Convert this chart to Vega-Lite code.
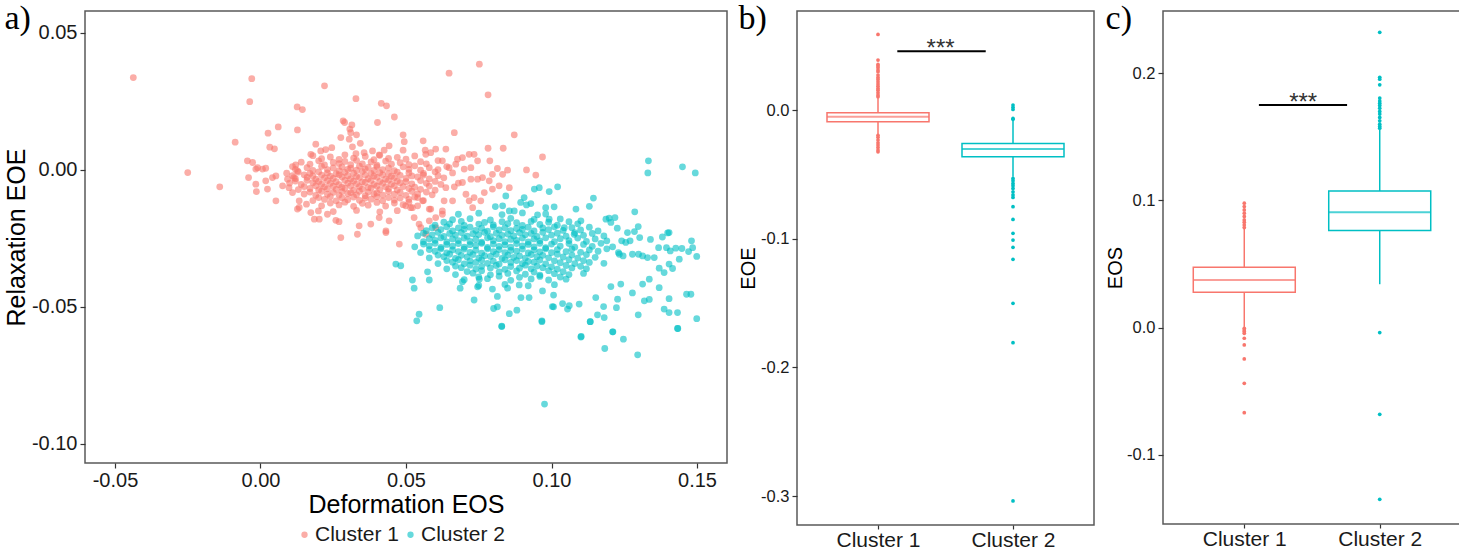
{
  "$schema": "https://vega.github.io/schema/vega-lite/v6.json",
  "padding": {"left": 3, "top": 1, "right": 0, "bottom": 0},
  "spacing": 9,
  "config": {
    "view": {"stroke": "#595959", "strokeWidth": 1.5},
    "font": "Liberation Sans",
    "axis": {"grid": false, "domain": false, "tickColor": "#333333", "tickSize": 5, "tickWidth": 1.2, "labelColor": "#1a1a1a", "titleColor": "#000000", "titleFontWeight": "normal", "labelFont": "Liberation Sans", "titleFont": "Liberation Sans", "labelPadding": 3},
    "title": {"font": "Liberation Serif", "fontSize": 34, "fontWeight": "normal", "anchor": "start", "frame": "bounds", "color": "#000000"}
  },
  "resolve": {"scale": {"color": "independent", "stroke": "independent"}, "legend": {"color": "independent"}},
  "datasets": {
    "scatter": [
      {"eos": -0.0437, "eoe": 0.0337, "cluster": "Cluster 1"},
      {"eos": -0.0030, "eoe": 0.0333, "cluster": "Cluster 1"},
      {"eos": -0.0037, "eoe": 0.0249, "cluster": "Cluster 1"},
      {"eos": 0.0220, "eoe": 0.0307, "cluster": "Cluster 1"},
      {"eos": 0.0328, "eoe": 0.0260, "cluster": "Cluster 1"},
      {"eos": 0.0415, "eoe": 0.0243, "cluster": "Cluster 1"},
      {"eos": 0.0433, "eoe": 0.0234, "cluster": "Cluster 1"},
      {"eos": 0.0460, "eoe": 0.0193, "cluster": "Cluster 1"},
      {"eos": 0.0126, "eoe": 0.0230, "cluster": "Cluster 1"},
      {"eos": 0.0144, "eoe": 0.0220, "cluster": "Cluster 1"},
      {"eos": 0.0061, "eoe": 0.0157, "cluster": "Cluster 1"},
      {"eos": 0.0026, "eoe": 0.0134, "cluster": "Cluster 1"},
      {"eos": 0.0127, "eoe": 0.0146, "cluster": "Cluster 1"},
      {"eos": -0.0087, "eoe": 0.0101, "cluster": "Cluster 1"},
      {"eos": 0.0032, "eoe": 0.0083, "cluster": "Cluster 1"},
      {"eos": 0.0048, "eoe": 0.0077, "cluster": "Cluster 1"},
      {"eos": -0.0250, "eoe": -0.0010, "cluster": "Cluster 1"},
      {"eos": -0.0140, "eoe": -0.0062, "cluster": "Cluster 1"},
      {"eos": 0.0284, "eoe": 0.0179, "cluster": "Cluster 1"},
      {"eos": 0.0289, "eoe": 0.0173, "cluster": "Cluster 1"},
      {"eos": 0.0314, "eoe": 0.0164, "cluster": "Cluster 1"},
      {"eos": 0.0307, "eoe": 0.0149, "cluster": "Cluster 1"},
      {"eos": 0.0330, "eoe": 0.0128, "cluster": "Cluster 1"},
      {"eos": 0.0310, "eoe": 0.0136, "cluster": "Cluster 1"},
      {"eos": 0.0402, "eoe": 0.0173, "cluster": "Cluster 1"},
      {"eos": 0.0276, "eoe": 0.0118, "cluster": "Cluster 1"},
      {"eos": 0.0305, "eoe": 0.0112, "cluster": "Cluster 1"},
      {"eos": 0.0343, "eoe": 0.0097, "cluster": "Cluster 1"},
      {"eos": 0.0190, "eoe": 0.0094, "cluster": "Cluster 1"},
      {"eos": 0.0207, "eoe": 0.0069, "cluster": "Cluster 1"},
      {"eos": 0.0224, "eoe": 0.0074, "cluster": "Cluster 1"},
      {"eos": 0.0245, "eoe": 0.0081, "cluster": "Cluster 1"},
      {"eos": 0.0173, "eoe": 0.0057, "cluster": "Cluster 1"},
      {"eos": 0.0316, "eoe": 0.0084, "cluster": "Cluster 1"},
      {"eos": 0.0328, "eoe": 0.0059, "cluster": "Cluster 1"},
      {"eos": 0.0356, "eoe": 0.0063, "cluster": "Cluster 1"},
      {"eos": 0.0385, "eoe": 0.0069, "cluster": "Cluster 1"},
      {"eos": 0.0408, "eoe": 0.0055, "cluster": "Cluster 1"},
      {"eos": 0.0425, "eoe": 0.0072, "cluster": "Cluster 1"},
      {"eos": 0.0442, "eoe": 0.0088, "cluster": "Cluster 1"},
      {"eos": 0.0490, "eoe": 0.0128, "cluster": "Cluster 1"},
      {"eos": 0.0494, "eoe": 0.0103, "cluster": "Cluster 1"},
      {"eos": 0.0490, "eoe": 0.0072, "cluster": "Cluster 1"},
      {"eos": 0.0559, "eoe": 0.0106, "cluster": "Cluster 1"},
      {"eos": 0.0566, "eoe": 0.0072, "cluster": "Cluster 1"},
      {"eos": -0.0045, "eoe": 0.0033, "cluster": "Cluster 1"},
      {"eos": -0.0027, "eoe": 0.0027, "cluster": "Cluster 1"},
      {"eos": -0.0010, "eoe": 0.0008, "cluster": "Cluster 1"},
      {"eos": 0.0007, "eoe": 0.0003, "cluster": "Cluster 1"},
      {"eos": 0.0018, "eoe": 0.0006, "cluster": "Cluster 1"},
      {"eos": -0.0016, "eoe": 0.0003, "cluster": "Cluster 1"},
      {"eos": -0.0041, "eoe": -0.0028, "cluster": "Cluster 1"},
      {"eos": -0.0016, "eoe": -0.0052, "cluster": "Cluster 1"},
      {"eos": -0.0014, "eoe": -0.0079, "cluster": "Cluster 1"},
      {"eos": 0.0018, "eoe": -0.0040, "cluster": "Cluster 1"},
      {"eos": 0.0024, "eoe": -0.0070, "cluster": "Cluster 1"},
      {"eos": 0.0041, "eoe": -0.0028, "cluster": "Cluster 1"},
      {"eos": 0.0053, "eoe": -0.0022, "cluster": "Cluster 1"},
      {"eos": 0.0053, "eoe": -0.0113, "cluster": "Cluster 1"},
      {"eos": 0.0076, "eoe": -0.0058, "cluster": "Cluster 1"},
      {"eos": 0.0093, "eoe": -0.0034, "cluster": "Cluster 1"},
      {"eos": 0.0098, "eoe": -0.0065, "cluster": "Cluster 1"},
      {"eos": 0.0121, "eoe": 0.0018, "cluster": "Cluster 1"},
      {"eos": 0.0127, "eoe": -0.0004, "cluster": "Cluster 1"},
      {"eos": 0.0115, "eoe": -0.0028, "cluster": "Cluster 1"},
      {"eos": 0.0110, "eoe": -0.0083, "cluster": "Cluster 1"},
      {"eos": 0.0133, "eoe": -0.0113, "cluster": "Cluster 1"},
      {"eos": 0.0133, "eoe": -0.0137, "cluster": "Cluster 1"},
      {"eos": 0.0202, "eoe": -0.0180, "cluster": "Cluster 1"},
      {"eos": 0.0230, "eoe": -0.0162, "cluster": "Cluster 1"},
      {"eos": 0.0259, "eoe": -0.0184, "cluster": "Cluster 1"},
      {"eos": 0.0270, "eoe": -0.0189, "cluster": "Cluster 1"},
      {"eos": 0.0276, "eoe": -0.0247, "cluster": "Cluster 1"},
      {"eos": 0.0339, "eoe": -0.0204, "cluster": "Cluster 1"},
      {"eos": 0.0333, "eoe": -0.0235, "cluster": "Cluster 1"},
      {"eos": 0.0379, "eoe": -0.0198, "cluster": "Cluster 1"},
      {"eos": 0.0408, "eoe": -0.0174, "cluster": "Cluster 1"},
      {"eos": 0.0431, "eoe": -0.0223, "cluster": "Cluster 1"},
      {"eos": 0.0442, "eoe": -0.0186, "cluster": "Cluster 1"},
      {"eos": 0.0499, "eoe": -0.0131, "cluster": "Cluster 1"},
      {"eos": 0.0522, "eoe": -0.0138, "cluster": "Cluster 1"},
      {"eos": 0.0528, "eoe": -0.0174, "cluster": "Cluster 1"},
      {"eos": 0.0545, "eoe": -0.0198, "cluster": "Cluster 1"},
      {"eos": 0.0580, "eoe": -0.0143, "cluster": "Cluster 1"},
      {"eos": 0.0173, "eoe": -0.0156, "cluster": "Cluster 1"},
      {"eos": 0.0185, "eoe": -0.0180, "cluster": "Cluster 1"},
      {"eos": 0.0199, "eoe": -0.0150, "cluster": "Cluster 1"},
      {"eos": 0.0127, "eoe": -0.0143, "cluster": "Cluster 1"},
      {"eos": 0.0158, "eoe": -0.0125, "cluster": "Cluster 1"},
      {"eos": 0.0752, "eoe": 0.0386, "cluster": "Cluster 1"},
      {"eos": 0.0648, "eoe": 0.0353, "cluster": "Cluster 1"},
      {"eos": 0.0782, "eoe": 0.0274, "cluster": "Cluster 1"},
      {"eos": 0.0666, "eoe": 0.0136, "cluster": "Cluster 1"},
      {"eos": 0.0872, "eoe": 0.0128, "cluster": "Cluster 1"},
      {"eos": 0.0782, "eoe": 0.0079, "cluster": "Cluster 1"},
      {"eos": 0.0834, "eoe": 0.0079, "cluster": "Cluster 1"},
      {"eos": 0.0969, "eoe": 0.0047, "cluster": "Cluster 1"},
      {"eos": 0.0914, "eoe": 0.0000, "cluster": "Cluster 1"},
      {"eos": 0.0946, "eoe": -0.0019, "cluster": "Cluster 1"},
      {"eos": 0.0855, "eoe": -0.0065, "cluster": "Cluster 1"},
      {"eos": 0.0788, "eoe": 0.0033, "cluster": "Cluster 1"},
      {"eos": 0.0814, "eoe": 0.0005, "cluster": "Cluster 1"},
      {"eos": 0.0797, "eoe": -0.0016, "cluster": "Cluster 1"},
      {"eos": 0.0832, "eoe": -0.0016, "cluster": "Cluster 1"},
      {"eos": 0.0849, "eoe": -0.0001, "cluster": "Cluster 1"},
      {"eos": 0.0797, "eoe": -0.0070, "cluster": "Cluster 1"},
      {"eos": 0.0820, "eoe": -0.0058, "cluster": "Cluster 1"},
      {"eos": 0.0769, "eoe": -0.0083, "cluster": "Cluster 1"},
      {"eos": 0.0757, "eoe": -0.0113, "cluster": "Cluster 1"},
      {"eos": 0.0734, "eoe": -0.0101, "cluster": "Cluster 1"},
      {"eos": 0.0786, "eoe": -0.0040, "cluster": "Cluster 1"},
      {"eos": 0.0763, "eoe": -0.0028, "cluster": "Cluster 1"},
      {"eos": 0.0746, "eoe": -0.0034, "cluster": "Cluster 1"},
      {"eos": 0.0723, "eoe": -0.0034, "cluster": "Cluster 1"},
      {"eos": 0.0694, "eoe": -0.0046, "cluster": "Cluster 1"},
      {"eos": 0.0717, "eoe": 0.0057, "cluster": "Cluster 1"},
      {"eos": 0.0734, "eoe": 0.0057, "cluster": "Cluster 1"},
      {"eos": 0.0746, "eoe": 0.0033, "cluster": "Cluster 1"},
      {"eos": 0.0694, "eoe": 0.0045, "cluster": "Cluster 1"},
      {"eos": 0.0677, "eoe": 0.0039, "cluster": "Cluster 1"},
      {"eos": 0.0700, "eoe": 0.0003, "cluster": "Cluster 1"},
      {"eos": 0.0723, "eoe": 0.0008, "cluster": "Cluster 1"},
      {"eos": 0.0671, "eoe": 0.0021, "cluster": "Cluster 1"},
      {"eos": 0.0648, "eoe": 0.0008, "cluster": "Cluster 1"},
      {"eos": 0.0625, "eoe": 0.0033, "cluster": "Cluster 1"},
      {"eos": 0.0637, "eoe": 0.0076, "cluster": "Cluster 1"},
      {"eos": 0.0602, "eoe": 0.0076, "cluster": "Cluster 1"},
      {"eos": 0.0585, "eoe": 0.0063, "cluster": "Cluster 1"},
      {"eos": 0.0568, "eoe": 0.0057, "cluster": "Cluster 1"},
      {"eos": 0.0637, "eoe": -0.0065, "cluster": "Cluster 1"},
      {"eos": 0.0666, "eoe": -0.0062, "cluster": "Cluster 1"},
      {"eos": 0.0706, "eoe": -0.0089, "cluster": "Cluster 1"},
      {"eos": 0.0717, "eoe": -0.0113, "cluster": "Cluster 1"},
      {"eos": 0.0729, "eoe": -0.0138, "cluster": "Cluster 1"},
      {"eos": 0.0660, "eoe": -0.0113, "cluster": "Cluster 1"},
      {"eos": 0.0631, "eoe": -0.0113, "cluster": "Cluster 1"},
      {"eos": 0.0625, "eoe": -0.0150, "cluster": "Cluster 1"},
      {"eos": 0.0602, "eoe": -0.0174, "cluster": "Cluster 1"},
      {"eos": 0.0585, "eoe": -0.0143, "cluster": "Cluster 1"},
      {"eos": 0.0557, "eoe": -0.0113, "cluster": "Cluster 1"},
      {"eos": 0.0540, "eoe": -0.0101, "cluster": "Cluster 1"},
      {"eos": 0.0516, "eoe": -0.0138, "cluster": "Cluster 1"},
      {"eos": 0.0551, "eoe": -0.0211, "cluster": "Cluster 1"},
      {"eos": 0.0580, "eoe": -0.0186, "cluster": "Cluster 1"},
      {"eos": 0.0602, "eoe": -0.0211, "cluster": "Cluster 1"},
      {"eos": 0.0477, "eoe": -0.0271, "cluster": "Cluster 1"},
      {"eos": 0.0431, "eoe": -0.0229, "cluster": "Cluster 1"},
      {"eos": 0.0568, "eoe": -0.0235, "cluster": "Cluster 1"},
      {"eos": 0.0625, "eoe": -0.0162, "cluster": "Cluster 1"},
      {"eos": 0.018, "eoe": 0.0052, "cluster": "Cluster 1"},
      {"eos": 0.024, "eoe": 0.0047, "cluster": "Cluster 1"},
      {"eos": 0.029, "eoe": 0.0055, "cluster": "Cluster 1"},
      {"eos": 0.036, "eoe": 0.0049, "cluster": "Cluster 1"},
      {"eos": 0.041, "eoe": 0.0053, "cluster": "Cluster 1"},
      {"eos": 0.047, "eoe": 0.0046, "cluster": "Cluster 1"},
      {"eos": 0.053, "eoe": 0.0051, "cluster": "Cluster 1"},
      {"eos": 0.014, "eoe": 0.0028, "cluster": "Cluster 1"},
      {"eos": 0.020, "eoe": 0.0033, "cluster": "Cluster 1"},
      {"eos": 0.025, "eoe": 0.0027, "cluster": "Cluster 1"},
      {"eos": 0.029, "eoe": 0.0031, "cluster": "Cluster 1"},
      {"eos": 0.033, "eoe": 0.0035, "cluster": "Cluster 1"},
      {"eos": 0.038, "eoe": 0.0029, "cluster": "Cluster 1"},
      {"eos": 0.043, "eoe": 0.0032, "cluster": "Cluster 1"},
      {"eos": 0.048, "eoe": 0.0026, "cluster": "Cluster 1"},
      {"eos": 0.055, "eoe": 0.0030, "cluster": "Cluster 1"},
      {"eos": 0.061, "eoe": 0.0034, "cluster": "Cluster 1"},
      {"eos": 0.011, "eoe": 0.0012, "cluster": "Cluster 1"},
      {"eos": 0.016, "eoe": 0.0008, "cluster": "Cluster 1"},
      {"eos": 0.021, "eoe": 0.0013, "cluster": "Cluster 1"},
      {"eos": 0.025, "eoe": 0.0007, "cluster": "Cluster 1"},
      {"eos": 0.028, "eoe": 0.0011, "cluster": "Cluster 1"},
      {"eos": 0.031, "eoe": 0.0006, "cluster": "Cluster 1"},
      {"eos": 0.034, "eoe": 0.0014, "cluster": "Cluster 1"},
      {"eos": 0.037, "eoe": 0.0009, "cluster": "Cluster 1"},
      {"eos": 0.040, "eoe": 0.0012, "cluster": "Cluster 1"},
      {"eos": 0.044, "eoe": 0.0007, "cluster": "Cluster 1"},
      {"eos": 0.049, "eoe": 0.0011, "cluster": "Cluster 1"},
      {"eos": 0.053, "eoe": 0.0015, "cluster": "Cluster 1"},
      {"eos": 0.058, "eoe": 0.0008, "cluster": "Cluster 1"},
      {"eos": 0.064, "eoe": 0.0012, "cluster": "Cluster 1"},
      {"eos": 0.009, "eoe": -0.0012, "cluster": "Cluster 1"},
      {"eos": 0.013, "eoe": -0.0008, "cluster": "Cluster 1"},
      {"eos": 0.017, "eoe": -0.0013, "cluster": "Cluster 1"},
      {"eos": 0.020, "eoe": -0.0007, "cluster": "Cluster 1"},
      {"eos": 0.023, "eoe": -0.0011, "cluster": "Cluster 1"},
      {"eos": 0.026, "eoe": -0.0014, "cluster": "Cluster 1"},
      {"eos": 0.029, "eoe": -0.0009, "cluster": "Cluster 1"},
      {"eos": 0.032, "eoe": -0.0012, "cluster": "Cluster 1"},
      {"eos": 0.035, "eoe": -0.0006, "cluster": "Cluster 1"},
      {"eos": 0.038, "eoe": -0.0013, "cluster": "Cluster 1"},
      {"eos": 0.041, "eoe": -0.0010, "cluster": "Cluster 1"},
      {"eos": 0.044, "eoe": -0.0014, "cluster": "Cluster 1"},
      {"eos": 0.047, "eoe": -0.0008, "cluster": "Cluster 1"},
      {"eos": 0.051, "eoe": -0.0011, "cluster": "Cluster 1"},
      {"eos": 0.056, "eoe": -0.0013, "cluster": "Cluster 1"},
      {"eos": 0.060, "eoe": -0.0007, "cluster": "Cluster 1"},
      {"eos": 0.066, "eoe": -0.0011, "cluster": "Cluster 1"},
      {"eos": 0.012, "eoe": -0.0032, "cluster": "Cluster 1"},
      {"eos": 0.016, "eoe": -0.0027, "cluster": "Cluster 1"},
      {"eos": 0.019, "eoe": -0.0034, "cluster": "Cluster 1"},
      {"eos": 0.022, "eoe": -0.0029, "cluster": "Cluster 1"},
      {"eos": 0.025, "eoe": -0.0031, "cluster": "Cluster 1"},
      {"eos": 0.028, "eoe": -0.0026, "cluster": "Cluster 1"},
      {"eos": 0.031, "eoe": -0.0033, "cluster": "Cluster 1"},
      {"eos": 0.034, "eoe": -0.0028, "cluster": "Cluster 1"},
      {"eos": 0.037, "eoe": -0.0032, "cluster": "Cluster 1"},
      {"eos": 0.040, "eoe": -0.0027, "cluster": "Cluster 1"},
      {"eos": 0.043, "eoe": -0.0034, "cluster": "Cluster 1"},
      {"eos": 0.046, "eoe": -0.0029, "cluster": "Cluster 1"},
      {"eos": 0.050, "eoe": -0.0031, "cluster": "Cluster 1"},
      {"eos": 0.054, "eoe": -0.0026, "cluster": "Cluster 1"},
      {"eos": 0.058, "eoe": -0.0033, "cluster": "Cluster 1"},
      {"eos": 0.063, "eoe": -0.0029, "cluster": "Cluster 1"},
      {"eos": 0.010, "eoe": -0.0048, "cluster": "Cluster 1"},
      {"eos": 0.014, "eoe": -0.0053, "cluster": "Cluster 1"},
      {"eos": 0.018, "eoe": -0.0047, "cluster": "Cluster 1"},
      {"eos": 0.021, "eoe": -0.0052, "cluster": "Cluster 1"},
      {"eos": 0.024, "eoe": -0.0049, "cluster": "Cluster 1"},
      {"eos": 0.027, "eoe": -0.0054, "cluster": "Cluster 1"},
      {"eos": 0.030, "eoe": -0.0048, "cluster": "Cluster 1"},
      {"eos": 0.033, "eoe": -0.0051, "cluster": "Cluster 1"},
      {"eos": 0.036, "eoe": -0.0046, "cluster": "Cluster 1"},
      {"eos": 0.039, "eoe": -0.0053, "cluster": "Cluster 1"},
      {"eos": 0.042, "eoe": -0.0049, "cluster": "Cluster 1"},
      {"eos": 0.045, "eoe": -0.0052, "cluster": "Cluster 1"},
      {"eos": 0.048, "eoe": -0.0047, "cluster": "Cluster 1"},
      {"eos": 0.052, "eoe": -0.0051, "cluster": "Cluster 1"},
      {"eos": 0.057, "eoe": -0.0049, "cluster": "Cluster 1"},
      {"eos": 0.062, "eoe": -0.0053, "cluster": "Cluster 1"},
      {"eos": 0.068, "eoe": -0.0048, "cluster": "Cluster 1"},
      {"eos": 0.013, "eoe": -0.0072, "cluster": "Cluster 1"},
      {"eos": 0.017, "eoe": -0.0068, "cluster": "Cluster 1"},
      {"eos": 0.020, "eoe": -0.0073, "cluster": "Cluster 1"},
      {"eos": 0.023, "eoe": -0.0069, "cluster": "Cluster 1"},
      {"eos": 0.026, "eoe": -0.0071, "cluster": "Cluster 1"},
      {"eos": 0.029, "eoe": -0.0067, "cluster": "Cluster 1"},
      {"eos": 0.032, "eoe": -0.0074, "cluster": "Cluster 1"},
      {"eos": 0.035, "eoe": -0.0070, "cluster": "Cluster 1"},
      {"eos": 0.038, "eoe": -0.0066, "cluster": "Cluster 1"},
      {"eos": 0.041, "eoe": -0.0072, "cluster": "Cluster 1"},
      {"eos": 0.044, "eoe": -0.0069, "cluster": "Cluster 1"},
      {"eos": 0.047, "eoe": -0.0073, "cluster": "Cluster 1"},
      {"eos": 0.051, "eoe": -0.0068, "cluster": "Cluster 1"},
      {"eos": 0.055, "eoe": -0.0071, "cluster": "Cluster 1"},
      {"eos": 0.060, "eoe": -0.0074, "cluster": "Cluster 1"},
      {"eos": 0.015, "eoe": -0.0088, "cluster": "Cluster 1"},
      {"eos": 0.019, "eoe": -0.0093, "cluster": "Cluster 1"},
      {"eos": 0.023, "eoe": -0.0089, "cluster": "Cluster 1"},
      {"eos": 0.027, "eoe": -0.0092, "cluster": "Cluster 1"},
      {"eos": 0.030, "eoe": -0.0087, "cluster": "Cluster 1"},
      {"eos": 0.033, "eoe": -0.0091, "cluster": "Cluster 1"},
      {"eos": 0.036, "eoe": -0.0094, "cluster": "Cluster 1"},
      {"eos": 0.039, "eoe": -0.0088, "cluster": "Cluster 1"},
      {"eos": 0.042, "eoe": -0.0092, "cluster": "Cluster 1"},
      {"eos": 0.046, "eoe": -0.0089, "cluster": "Cluster 1"},
      {"eos": 0.050, "eoe": -0.0093, "cluster": "Cluster 1"},
      {"eos": 0.054, "eoe": -0.0088, "cluster": "Cluster 1"},
      {"eos": 0.059, "eoe": -0.0091, "cluster": "Cluster 1"},
      {"eos": 0.018, "eoe": -0.0112, "cluster": "Cluster 1"},
      {"eos": 0.022, "eoe": -0.0108, "cluster": "Cluster 1"},
      {"eos": 0.026, "eoe": -0.0113, "cluster": "Cluster 1"},
      {"eos": 0.030, "eoe": -0.0109, "cluster": "Cluster 1"},
      {"eos": 0.034, "eoe": -0.0111, "cluster": "Cluster 1"},
      {"eos": 0.038, "eoe": -0.0107, "cluster": "Cluster 1"},
      {"eos": 0.042, "eoe": -0.0113, "cluster": "Cluster 1"},
      {"eos": 0.046, "eoe": -0.0110, "cluster": "Cluster 1"},
      {"eos": 0.051, "eoe": -0.0108, "cluster": "Cluster 1"},
      {"eos": 0.056, "eoe": -0.0112, "cluster": "Cluster 1"},
      {"eos": 0.021, "eoe": -0.0131, "cluster": "Cluster 1"},
      {"eos": 0.027, "eoe": -0.0128, "cluster": "Cluster 1"},
      {"eos": 0.032, "eoe": -0.0133, "cluster": "Cluster 1"},
      {"eos": 0.037, "eoe": -0.0129, "cluster": "Cluster 1"},
      {"eos": 0.043, "eoe": -0.0132, "cluster": "Cluster 1"},
      {"eos": 0.049, "eoe": -0.0127, "cluster": "Cluster 1"},
      {"eos": 0.054, "eoe": -0.0131, "cluster": "Cluster 1"},
      {"eos": 0.025, "eoe": -0.0152, "cluster": "Cluster 1"},
      {"eos": 0.033, "eoe": -0.0148, "cluster": "Cluster 1"},
      {"eos": 0.041, "eoe": -0.0153, "cluster": "Cluster 1"},
      {"eos": 0.047, "eoe": -0.0149, "cluster": "Cluster 1"},
      {"eos": 0.021, "eoe": 0.0041, "cluster": "Cluster 1"},
      {"eos": 0.027, "eoe": 0.0038, "cluster": "Cluster 1"},
      {"eos": 0.032, "eoe": 0.0043, "cluster": "Cluster 1"},
      {"eos": 0.039, "eoe": 0.0037, "cluster": "Cluster 1"},
      {"eos": 0.044, "eoe": 0.0042, "cluster": "Cluster 1"},
      {"eos": 0.050, "eoe": 0.0039, "cluster": "Cluster 1"},
      {"eos": 0.017, "eoe": 0.0021, "cluster": "Cluster 1"},
      {"eos": 0.022, "eoe": 0.0018, "cluster": "Cluster 1"},
      {"eos": 0.027, "eoe": 0.0023, "cluster": "Cluster 1"},
      {"eos": 0.031, "eoe": 0.0019, "cluster": "Cluster 1"},
      {"eos": 0.035, "eoe": 0.0022, "cluster": "Cluster 1"},
      {"eos": 0.040, "eoe": 0.0017, "cluster": "Cluster 1"},
      {"eos": 0.045, "eoe": 0.0021, "cluster": "Cluster 1"},
      {"eos": 0.051, "eoe": 0.0019, "cluster": "Cluster 1"},
      {"eos": 0.057, "eoe": 0.0022, "cluster": "Cluster 1"},
      {"eos": 0.012, "eoe": 0.0002, "cluster": "Cluster 1"},
      {"eos": 0.018, "eoe": -0.0002, "cluster": "Cluster 1"},
      {"eos": 0.023, "eoe": 0.0001, "cluster": "Cluster 1"},
      {"eos": 0.027, "eoe": -0.0003, "cluster": "Cluster 1"},
      {"eos": 0.030, "eoe": 0.0002, "cluster": "Cluster 1"},
      {"eos": 0.033, "eoe": -0.0001, "cluster": "Cluster 1"},
      {"eos": 0.036, "eoe": 0.0003, "cluster": "Cluster 1"},
      {"eos": 0.039, "eoe": -0.0002, "cluster": "Cluster 1"},
      {"eos": 0.042, "eoe": 0.0001, "cluster": "Cluster 1"},
      {"eos": 0.046, "eoe": -0.0003, "cluster": "Cluster 1"},
      {"eos": 0.051, "eoe": 0.0002, "cluster": "Cluster 1"},
      {"eos": 0.055, "eoe": -0.0001, "cluster": "Cluster 1"},
      {"eos": 0.061, "eoe": 0.0001, "cluster": "Cluster 1"},
      {"eos": 0.011, "eoe": -0.0021, "cluster": "Cluster 1"},
      {"eos": 0.015, "eoe": -0.0018, "cluster": "Cluster 1"},
      {"eos": 0.018, "eoe": -0.0022, "cluster": "Cluster 1"},
      {"eos": 0.021, "eoe": -0.0019, "cluster": "Cluster 1"},
      {"eos": 0.024, "eoe": -0.0023, "cluster": "Cluster 1"},
      {"eos": 0.027, "eoe": -0.0018, "cluster": "Cluster 1"},
      {"eos": 0.030, "eoe": -0.0021, "cluster": "Cluster 1"},
      {"eos": 0.033, "eoe": -0.0024, "cluster": "Cluster 1"},
      {"eos": 0.036, "eoe": -0.0019, "cluster": "Cluster 1"},
      {"eos": 0.039, "eoe": -0.0022, "cluster": "Cluster 1"},
      {"eos": 0.042, "eoe": -0.0018, "cluster": "Cluster 1"},
      {"eos": 0.045, "eoe": -0.0023, "cluster": "Cluster 1"},
      {"eos": 0.048, "eoe": -0.0020, "cluster": "Cluster 1"},
      {"eos": 0.052, "eoe": -0.0022, "cluster": "Cluster 1"},
      {"eos": 0.056, "eoe": -0.0019, "cluster": "Cluster 1"},
      {"eos": 0.061, "eoe": -0.0021, "cluster": "Cluster 1"},
      {"eos": 0.012, "eoe": -0.0041, "cluster": "Cluster 1"},
      {"eos": 0.016, "eoe": -0.0038, "cluster": "Cluster 1"},
      {"eos": 0.020, "eoe": -0.0042, "cluster": "Cluster 1"},
      {"eos": 0.023, "eoe": -0.0039, "cluster": "Cluster 1"},
      {"eos": 0.026, "eoe": -0.0043, "cluster": "Cluster 1"},
      {"eos": 0.029, "eoe": -0.0038, "cluster": "Cluster 1"},
      {"eos": 0.032, "eoe": -0.0041, "cluster": "Cluster 1"},
      {"eos": 0.035, "eoe": -0.0044, "cluster": "Cluster 1"},
      {"eos": 0.038, "eoe": -0.0039, "cluster": "Cluster 1"},
      {"eos": 0.041, "eoe": -0.0042, "cluster": "Cluster 1"},
      {"eos": 0.044, "eoe": -0.0038, "cluster": "Cluster 1"},
      {"eos": 0.047, "eoe": -0.0041, "cluster": "Cluster 1"},
      {"eos": 0.050, "eoe": -0.0043, "cluster": "Cluster 1"},
      {"eos": 0.055, "eoe": -0.0039, "cluster": "Cluster 1"},
      {"eos": 0.060, "eoe": -0.0042, "cluster": "Cluster 1"},
      {"eos": 0.015, "eoe": -0.0061, "cluster": "Cluster 1"},
      {"eos": 0.019, "eoe": -0.0058, "cluster": "Cluster 1"},
      {"eos": 0.022, "eoe": -0.0062, "cluster": "Cluster 1"},
      {"eos": 0.025, "eoe": -0.0059, "cluster": "Cluster 1"},
      {"eos": 0.028, "eoe": -0.0063, "cluster": "Cluster 1"},
      {"eos": 0.031, "eoe": -0.0058, "cluster": "Cluster 1"},
      {"eos": 0.034, "eoe": -0.0061, "cluster": "Cluster 1"},
      {"eos": 0.037, "eoe": -0.0064, "cluster": "Cluster 1"},
      {"eos": 0.040, "eoe": -0.0059, "cluster": "Cluster 1"},
      {"eos": 0.043, "eoe": -0.0062, "cluster": "Cluster 1"},
      {"eos": 0.046, "eoe": -0.0058, "cluster": "Cluster 1"},
      {"eos": 0.049, "eoe": -0.0061, "cluster": "Cluster 1"},
      {"eos": 0.053, "eoe": -0.0063, "cluster": "Cluster 1"},
      {"eos": 0.058, "eoe": -0.0059, "cluster": "Cluster 1"},
      {"eos": 0.017, "eoe": -0.0081, "cluster": "Cluster 1"},
      {"eos": 0.021, "eoe": -0.0078, "cluster": "Cluster 1"},
      {"eos": 0.025, "eoe": -0.0082, "cluster": "Cluster 1"},
      {"eos": 0.028, "eoe": -0.0079, "cluster": "Cluster 1"},
      {"eos": 0.031, "eoe": -0.0083, "cluster": "Cluster 1"},
      {"eos": 0.034, "eoe": -0.0078, "cluster": "Cluster 1"},
      {"eos": 0.037, "eoe": -0.0081, "cluster": "Cluster 1"},
      {"eos": 0.040, "eoe": -0.0084, "cluster": "Cluster 1"},
      {"eos": 0.044, "eoe": -0.0079, "cluster": "Cluster 1"},
      {"eos": 0.048, "eoe": -0.0082, "cluster": "Cluster 1"},
      {"eos": 0.052, "eoe": -0.0078, "cluster": "Cluster 1"},
      {"eos": 0.057, "eoe": -0.0081, "cluster": "Cluster 1"},
      {"eos": 0.020, "eoe": -0.0101, "cluster": "Cluster 1"},
      {"eos": 0.024, "eoe": -0.0098, "cluster": "Cluster 1"},
      {"eos": 0.028, "eoe": -0.0102, "cluster": "Cluster 1"},
      {"eos": 0.032, "eoe": -0.0099, "cluster": "Cluster 1"},
      {"eos": 0.036, "eoe": -0.0103, "cluster": "Cluster 1"},
      {"eos": 0.040, "eoe": -0.0098, "cluster": "Cluster 1"},
      {"eos": 0.044, "eoe": -0.0101, "cluster": "Cluster 1"},
      {"eos": 0.048, "eoe": -0.0103, "cluster": "Cluster 1"},
      {"eos": 0.053, "eoe": -0.0099, "cluster": "Cluster 1"},
      {"eos": 0.024, "eoe": -0.0121, "cluster": "Cluster 1"},
      {"eos": 0.029, "eoe": -0.0118, "cluster": "Cluster 1"},
      {"eos": 0.035, "eoe": -0.0122, "cluster": "Cluster 1"},
      {"eos": 0.040, "eoe": -0.0119, "cluster": "Cluster 1"},
      {"eos": 0.046, "eoe": -0.0121, "cluster": "Cluster 1"},
      {"eos": 0.051, "eoe": -0.0118, "cluster": "Cluster 1"},
      {"eos": 0.1021, "eoe": -0.0062, "cluster": "Cluster 2"},
      {"eos": 0.0992, "eoe": -0.0079, "cluster": "Cluster 2"},
      {"eos": 0.0958, "eoe": -0.0065, "cluster": "Cluster 2"},
      {"eos": 0.0941, "eoe": -0.0070, "cluster": "Cluster 2"},
      {"eos": 0.0843, "eoe": -0.0095, "cluster": "Cluster 2"},
      {"eos": 0.0906, "eoe": -0.0101, "cluster": "Cluster 2"},
      {"eos": 0.0894, "eoe": -0.0119, "cluster": "Cluster 2"},
      {"eos": 0.0929, "eoe": -0.0123, "cluster": "Cluster 2"},
      {"eos": 0.0914, "eoe": -0.0128, "cluster": "Cluster 2"},
      {"eos": 0.0872, "eoe": -0.0150, "cluster": "Cluster 2"},
      {"eos": 0.0855, "eoe": -0.0150, "cluster": "Cluster 2"},
      {"eos": 0.0832, "eoe": -0.0131, "cluster": "Cluster 2"},
      {"eos": 0.0807, "eoe": -0.0134, "cluster": "Cluster 2"},
      {"eos": 0.0980, "eoe": -0.0138, "cluster": "Cluster 2"},
      {"eos": 0.1009, "eoe": -0.0135, "cluster": "Cluster 2"},
      {"eos": 0.0952, "eoe": -0.0164, "cluster": "Cluster 2"},
      {"eos": 0.0992, "eoe": -0.0180, "cluster": "Cluster 2"},
      {"eos": 0.1084, "eoe": -0.0143, "cluster": "Cluster 2"},
      {"eos": 0.1101, "eoe": -0.0186, "cluster": "Cluster 2"},
      {"eos": 0.1044, "eoe": -0.0211, "cluster": "Cluster 2"},
      {"eos": 0.1078, "eoe": -0.0235, "cluster": "Cluster 2"},
      {"eos": 0.1333, "eoe": 0.0033, "cluster": "Cluster 2"},
      {"eos": 0.1331, "eoe": -0.0011, "cluster": "Cluster 2"},
      {"eos": 0.1450, "eoe": 0.0011, "cluster": "Cluster 2"},
      {"eos": 0.1494, "eoe": -0.0011, "cluster": "Cluster 2"},
      {"eos": 0.1144, "eoe": -0.0103, "cluster": "Cluster 2"},
      {"eos": 0.1130, "eoe": -0.0133, "cluster": "Cluster 2"},
      {"eos": 0.1286, "eoe": -0.0153, "cluster": "Cluster 2"},
      {"eos": 0.1187, "eoe": -0.0180, "cluster": "Cluster 2"},
      {"eos": 0.1198, "eoe": -0.0176, "cluster": "Cluster 2"},
      {"eos": 0.1218, "eoe": -0.0174, "cluster": "Cluster 2"},
      {"eos": 0.1204, "eoe": -0.0192, "cluster": "Cluster 2"},
      {"eos": 0.1298, "eoe": -0.0207, "cluster": "Cluster 2"},
      {"eos": 0.1285, "eoe": -0.0225, "cluster": "Cluster 2"},
      {"eos": 0.1261, "eoe": -0.0229, "cluster": "Cluster 2"},
      {"eos": 0.1241, "eoe": -0.0259, "cluster": "Cluster 2"},
      {"eos": 0.1226, "eoe": -0.0213, "cluster": "Cluster 2"},
      {"eos": 0.1270, "eoe": -0.0259, "cluster": "Cluster 2"},
      {"eos": 0.1255, "eoe": -0.0265, "cluster": "Cluster 2"},
      {"eos": 0.1303, "eoe": -0.0247, "cluster": "Cluster 2"},
      {"eos": 0.1340, "eoe": -0.0254, "cluster": "Cluster 2"},
      {"eos": 0.1399, "eoe": -0.0230, "cluster": "Cluster 2"},
      {"eos": 0.1404, "eoe": -0.0229, "cluster": "Cluster 2"},
      {"eos": 0.1381, "eoe": -0.0245, "cluster": "Cluster 2"},
      {"eos": 0.1368, "eoe": -0.0284, "cluster": "Cluster 2"},
      {"eos": 0.1395, "eoe": -0.0284, "cluster": "Cluster 2"},
      {"eos": 0.1408, "eoe": -0.0296, "cluster": "Cluster 2"},
      {"eos": 0.1427, "eoe": -0.0286, "cluster": "Cluster 2"},
      {"eos": 0.1448, "eoe": -0.0287, "cluster": "Cluster 2"},
      {"eos": 0.1481, "eoe": -0.0259, "cluster": "Cluster 2"},
      {"eos": 0.1485, "eoe": -0.0284, "cluster": "Cluster 2"},
      {"eos": 0.1471, "eoe": -0.0298, "cluster": "Cluster 2"},
      {"eos": 0.1499, "eoe": -0.0316, "cluster": "Cluster 2"},
      {"eos": 0.1439, "eoe": -0.0326, "cluster": "Cluster 2"},
      {"eos": 0.1404, "eoe": -0.0344, "cluster": "Cluster 2"},
      {"eos": 0.1416, "eoe": -0.0360, "cluster": "Cluster 2"},
      {"eos": 0.1387, "eoe": -0.0375, "cluster": "Cluster 2"},
      {"eos": 0.1370, "eoe": -0.0359, "cluster": "Cluster 2"},
      {"eos": 0.1353, "eoe": -0.0320, "cluster": "Cluster 2"},
      {"eos": 0.1330, "eoe": -0.0320, "cluster": "Cluster 2"},
      {"eos": 0.1313, "eoe": -0.0314, "cluster": "Cluster 2"},
      {"eos": 0.1299, "eoe": -0.0308, "cluster": "Cluster 2"},
      {"eos": 0.1278, "eoe": -0.0308, "cluster": "Cluster 2"},
      {"eos": 0.1246, "eoe": -0.0314, "cluster": "Cluster 2"},
      {"eos": 0.1233, "eoe": -0.0308, "cluster": "Cluster 2"},
      {"eos": 0.1464, "eoe": -0.0454, "cluster": "Cluster 2"},
      {"eos": 0.1479, "eoe": -0.0454, "cluster": "Cluster 2"},
      {"eos": 0.1404, "eoe": -0.0470, "cluster": "Cluster 2"},
      {"eos": 0.1336, "eoe": -0.0473, "cluster": "Cluster 2"},
      {"eos": 0.1319, "eoe": -0.0478, "cluster": "Cluster 2"},
      {"eos": 0.1387, "eoe": -0.0508, "cluster": "Cluster 2"},
      {"eos": 0.1404, "eoe": -0.0521, "cluster": "Cluster 2"},
      {"eos": 0.1433, "eoe": -0.0521, "cluster": "Cluster 2"},
      {"eos": 0.1499, "eoe": -0.0543, "cluster": "Cluster 2"},
      {"eos": 0.1298, "eoe": -0.0529, "cluster": "Cluster 2"},
      {"eos": 0.1433, "eoe": -0.0579, "cluster": "Cluster 2"},
      {"eos": 0.1210, "eoe": -0.0591, "cluster": "Cluster 2"},
      {"eos": 0.1247, "eoe": -0.0618, "cluster": "Cluster 2"},
      {"eos": 0.1101, "eoe": -0.0610, "cluster": "Cluster 2"},
      {"eos": 0.1133, "eoe": -0.0554, "cluster": "Cluster 2"},
      {"eos": 0.1158, "eoe": -0.0529, "cluster": "Cluster 2"},
      {"eos": 0.1181, "eoe": -0.0539, "cluster": "Cluster 2"},
      {"eos": 0.1179, "eoe": -0.0499, "cluster": "Cluster 2"},
      {"eos": 0.1223, "eoe": -0.0503, "cluster": "Cluster 2"},
      {"eos": 0.1227, "eoe": -0.0472, "cluster": "Cluster 2"},
      {"eos": 0.1278, "eoe": -0.0449, "cluster": "Cluster 2"},
      {"eos": 0.1313, "eoe": -0.0417, "cluster": "Cluster 2"},
      {"eos": 0.1336, "eoe": -0.0399, "cluster": "Cluster 2"},
      {"eos": 0.1370, "eoe": -0.0430, "cluster": "Cluster 2"},
      {"eos": 0.1238, "eoe": -0.0417, "cluster": "Cluster 2"},
      {"eos": 0.1204, "eoe": -0.0426, "cluster": "Cluster 2"},
      {"eos": 0.1152, "eoe": -0.0466, "cluster": "Cluster 2"},
      {"eos": 0.1095, "eoe": -0.0490, "cluster": "Cluster 2"},
      {"eos": 0.1061, "eoe": -0.0496, "cluster": "Cluster 2"},
      {"eos": 0.1038, "eoe": -0.0488, "cluster": "Cluster 2"},
      {"eos": 0.1003, "eoe": -0.0499, "cluster": "Cluster 2"},
      {"eos": 0.1055, "eoe": -0.0508, "cluster": "Cluster 2"},
      {"eos": 0.0829, "eoe": -0.0572, "cluster": "Cluster 2"},
      {"eos": 0.0967, "eoe": -0.0554, "cluster": "Cluster 2"},
      {"eos": 0.1133, "eoe": -0.0554, "cluster": "Cluster 2"},
      {"eos": 0.1102, "eoe": -0.0608, "cluster": "Cluster 2"},
      {"eos": 0.1211, "eoe": -0.0591, "cluster": "Cluster 2"},
      {"eos": 0.1183, "eoe": -0.0652, "cluster": "Cluster 2"},
      {"eos": 0.1296, "eoe": -0.0675, "cluster": "Cluster 2"},
      {"eos": 0.1434, "eoe": -0.0579, "cluster": "Cluster 2"},
      {"eos": 0.0976, "eoe": -0.0855, "cluster": "Cluster 2"},
      {"eos": 0.0465, "eoe": -0.0344, "cluster": "Cluster 2"},
      {"eos": 0.0482, "eoe": -0.0350, "cluster": "Cluster 2"},
      {"eos": 0.0522, "eoe": -0.0402, "cluster": "Cluster 2"},
      {"eos": 0.0528, "eoe": -0.0432, "cluster": "Cluster 2"},
      {"eos": 0.0545, "eoe": -0.0527, "cluster": "Cluster 2"},
      {"eos": 0.0537, "eoe": -0.0551, "cluster": "Cluster 2"},
      {"eos": 0.0616, "eoe": -0.0503, "cluster": "Cluster 2"},
      {"eos": 0.0574, "eoe": -0.0372, "cluster": "Cluster 2"},
      {"eos": 0.0580, "eoe": -0.0402, "cluster": "Cluster 2"},
      {"eos": 0.0829, "eoe": -0.0570, "cluster": "Cluster 2"},
      {"eos": 0.0801, "eoe": -0.0506, "cluster": "Cluster 2"},
      {"eos": 0.0814, "eoe": -0.0500, "cluster": "Cluster 2"},
      {"eos": 0.0855, "eoe": -0.0525, "cluster": "Cluster 2"},
      {"eos": 0.0881, "eoe": -0.0512, "cluster": "Cluster 2"},
      {"eos": 0.0967, "eoe": -0.0551, "cluster": "Cluster 2"},
      {"eos": 0.1007, "eoe": -0.0500, "cluster": "Cluster 2"},
      {"eos": 0.1007, "eoe": -0.0457, "cluster": "Cluster 2"},
      {"eos": 0.0969, "eoe": -0.0442, "cluster": "Cluster 2"},
      {"eos": 0.0923, "eoe": -0.0466, "cluster": "Cluster 2"},
      {"eos": 0.0895, "eoe": -0.0466, "cluster": "Cluster 2"},
      {"eos": 0.0889, "eoe": -0.0420, "cluster": "Cluster 2"},
      {"eos": 0.0849, "eoe": -0.0432, "cluster": "Cluster 2"},
      {"eos": 0.0814, "eoe": -0.0462, "cluster": "Cluster 2"},
      {"eos": 0.0797, "eoe": -0.0435, "cluster": "Cluster 2"},
      {"eos": 0.0746, "eoe": -0.0427, "cluster": "Cluster 2"},
      {"eos": 0.0734, "eoe": -0.0475, "cluster": "Cluster 2"},
      {"eos": 0.0694, "eoe": -0.0408, "cluster": "Cluster 2"},
      {"eos": 0.0686, "eoe": -0.0432, "cluster": "Cluster 2"},
      {"eos": 0.0752, "eoe": -0.0399, "cluster": "Cluster 2"},
      {"eos": 0.068, "eoe": -0.0162, "cluster": "Cluster 2"},
      {"eos": 0.075, "eoe": -0.0158, "cluster": "Cluster 2"},
      {"eos": 0.083, "eoe": -0.0163, "cluster": "Cluster 2"},
      {"eos": 0.090, "eoe": -0.0157, "cluster": "Cluster 2"},
      {"eos": 0.098, "eoe": -0.0161, "cluster": "Cluster 2"},
      {"eos": 0.066, "eoe": -0.0182, "cluster": "Cluster 2"},
      {"eos": 0.072, "eoe": -0.0178, "cluster": "Cluster 2"},
      {"eos": 0.079, "eoe": -0.0183, "cluster": "Cluster 2"},
      {"eos": 0.086, "eoe": -0.0177, "cluster": "Cluster 2"},
      {"eos": 0.094, "eoe": -0.0181, "cluster": "Cluster 2"},
      {"eos": 0.103, "eoe": -0.0179, "cluster": "Cluster 2"},
      {"eos": 0.060, "eoe": -0.0202, "cluster": "Cluster 2"},
      {"eos": 0.065, "eoe": -0.0197, "cluster": "Cluster 2"},
      {"eos": 0.070, "eoe": -0.0203, "cluster": "Cluster 2"},
      {"eos": 0.075, "eoe": -0.0198, "cluster": "Cluster 2"},
      {"eos": 0.080, "eoe": -0.0201, "cluster": "Cluster 2"},
      {"eos": 0.085, "eoe": -0.0196, "cluster": "Cluster 2"},
      {"eos": 0.090, "eoe": -0.0203, "cluster": "Cluster 2"},
      {"eos": 0.096, "eoe": -0.0199, "cluster": "Cluster 2"},
      {"eos": 0.102, "eoe": -0.0202, "cluster": "Cluster 2"},
      {"eos": 0.109, "eoe": -0.0197, "cluster": "Cluster 2"},
      {"eos": 0.057, "eoe": -0.0222, "cluster": "Cluster 2"},
      {"eos": 0.062, "eoe": -0.0218, "cluster": "Cluster 2"},
      {"eos": 0.066, "eoe": -0.0223, "cluster": "Cluster 2"},
      {"eos": 0.070, "eoe": -0.0217, "cluster": "Cluster 2"},
      {"eos": 0.074, "eoe": -0.0221, "cluster": "Cluster 2"},
      {"eos": 0.078, "eoe": -0.0224, "cluster": "Cluster 2"},
      {"eos": 0.082, "eoe": -0.0219, "cluster": "Cluster 2"},
      {"eos": 0.086, "eoe": -0.0222, "cluster": "Cluster 2"},
      {"eos": 0.090, "eoe": -0.0217, "cluster": "Cluster 2"},
      {"eos": 0.094, "eoe": -0.0223, "cluster": "Cluster 2"},
      {"eos": 0.099, "eoe": -0.0218, "cluster": "Cluster 2"},
      {"eos": 0.104, "eoe": -0.0221, "cluster": "Cluster 2"},
      {"eos": 0.110, "eoe": -0.0219, "cluster": "Cluster 2"},
      {"eos": 0.116, "eoe": -0.0223, "cluster": "Cluster 2"},
      {"eos": 0.054, "eoe": -0.0241, "cluster": "Cluster 2"},
      {"eos": 0.059, "eoe": -0.0237, "cluster": "Cluster 2"},
      {"eos": 0.063, "eoe": -0.0243, "cluster": "Cluster 2"},
      {"eos": 0.067, "eoe": -0.0238, "cluster": "Cluster 2"},
      {"eos": 0.071, "eoe": -0.0242, "cluster": "Cluster 2"},
      {"eos": 0.075, "eoe": -0.0236, "cluster": "Cluster 2"},
      {"eos": 0.079, "eoe": -0.0244, "cluster": "Cluster 2"},
      {"eos": 0.083, "eoe": -0.0239, "cluster": "Cluster 2"},
      {"eos": 0.087, "eoe": -0.0241, "cluster": "Cluster 2"},
      {"eos": 0.091, "eoe": -0.0237, "cluster": "Cluster 2"},
      {"eos": 0.095, "eoe": -0.0243, "cluster": "Cluster 2"},
      {"eos": 0.100, "eoe": -0.0238, "cluster": "Cluster 2"},
      {"eos": 0.105, "eoe": -0.0242, "cluster": "Cluster 2"},
      {"eos": 0.111, "eoe": -0.0239, "cluster": "Cluster 2"},
      {"eos": 0.118, "eoe": -0.0241, "cluster": "Cluster 2"},
      {"eos": 0.056, "eoe": -0.0262, "cluster": "Cluster 2"},
      {"eos": 0.060, "eoe": -0.0257, "cluster": "Cluster 2"},
      {"eos": 0.064, "eoe": -0.0263, "cluster": "Cluster 2"},
      {"eos": 0.068, "eoe": -0.0258, "cluster": "Cluster 2"},
      {"eos": 0.072, "eoe": -0.0261, "cluster": "Cluster 2"},
      {"eos": 0.076, "eoe": -0.0264, "cluster": "Cluster 2"},
      {"eos": 0.080, "eoe": -0.0258, "cluster": "Cluster 2"},
      {"eos": 0.084, "eoe": -0.0262, "cluster": "Cluster 2"},
      {"eos": 0.088, "eoe": -0.0257, "cluster": "Cluster 2"},
      {"eos": 0.092, "eoe": -0.0263, "cluster": "Cluster 2"},
      {"eos": 0.096, "eoe": -0.0259, "cluster": "Cluster 2"},
      {"eos": 0.101, "eoe": -0.0262, "cluster": "Cluster 2"},
      {"eos": 0.106, "eoe": -0.0258, "cluster": "Cluster 2"},
      {"eos": 0.112, "eoe": -0.0261, "cluster": "Cluster 2"},
      {"eos": 0.119, "eoe": -0.0259, "cluster": "Cluster 2"},
      {"eos": 0.053, "eoe": -0.0281, "cluster": "Cluster 2"},
      {"eos": 0.058, "eoe": -0.0277, "cluster": "Cluster 2"},
      {"eos": 0.062, "eoe": -0.0283, "cluster": "Cluster 2"},
      {"eos": 0.066, "eoe": -0.0278, "cluster": "Cluster 2"},
      {"eos": 0.070, "eoe": -0.0282, "cluster": "Cluster 2"},
      {"eos": 0.074, "eoe": -0.0276, "cluster": "Cluster 2"},
      {"eos": 0.078, "eoe": -0.0283, "cluster": "Cluster 2"},
      {"eos": 0.082, "eoe": -0.0279, "cluster": "Cluster 2"},
      {"eos": 0.086, "eoe": -0.0282, "cluster": "Cluster 2"},
      {"eos": 0.090, "eoe": -0.0277, "cluster": "Cluster 2"},
      {"eos": 0.094, "eoe": -0.0281, "cluster": "Cluster 2"},
      {"eos": 0.098, "eoe": -0.0284, "cluster": "Cluster 2"},
      {"eos": 0.103, "eoe": -0.0278, "cluster": "Cluster 2"},
      {"eos": 0.108, "eoe": -0.0282, "cluster": "Cluster 2"},
      {"eos": 0.114, "eoe": -0.0279, "cluster": "Cluster 2"},
      {"eos": 0.121, "eoe": -0.0281, "cluster": "Cluster 2"},
      {"eos": 0.055, "eoe": -0.0302, "cluster": "Cluster 2"},
      {"eos": 0.060, "eoe": -0.0297, "cluster": "Cluster 2"},
      {"eos": 0.064, "eoe": -0.0303, "cluster": "Cluster 2"},
      {"eos": 0.068, "eoe": -0.0298, "cluster": "Cluster 2"},
      {"eos": 0.072, "eoe": -0.0301, "cluster": "Cluster 2"},
      {"eos": 0.076, "eoe": -0.0304, "cluster": "Cluster 2"},
      {"eos": 0.080, "eoe": -0.0298, "cluster": "Cluster 2"},
      {"eos": 0.084, "eoe": -0.0302, "cluster": "Cluster 2"},
      {"eos": 0.088, "eoe": -0.0297, "cluster": "Cluster 2"},
      {"eos": 0.092, "eoe": -0.0303, "cluster": "Cluster 2"},
      {"eos": 0.096, "eoe": -0.0299, "cluster": "Cluster 2"},
      {"eos": 0.100, "eoe": -0.0302, "cluster": "Cluster 2"},
      {"eos": 0.105, "eoe": -0.0298, "cluster": "Cluster 2"},
      {"eos": 0.110, "eoe": -0.0301, "cluster": "Cluster 2"},
      {"eos": 0.116, "eoe": -0.0297, "cluster": "Cluster 2"},
      {"eos": 0.123, "eoe": -0.0302, "cluster": "Cluster 2"},
      {"eos": 0.058, "eoe": -0.0321, "cluster": "Cluster 2"},
      {"eos": 0.063, "eoe": -0.0317, "cluster": "Cluster 2"},
      {"eos": 0.067, "eoe": -0.0323, "cluster": "Cluster 2"},
      {"eos": 0.071, "eoe": -0.0318, "cluster": "Cluster 2"},
      {"eos": 0.075, "eoe": -0.0322, "cluster": "Cluster 2"},
      {"eos": 0.079, "eoe": -0.0316, "cluster": "Cluster 2"},
      {"eos": 0.083, "eoe": -0.0323, "cluster": "Cluster 2"},
      {"eos": 0.087, "eoe": -0.0319, "cluster": "Cluster 2"},
      {"eos": 0.091, "eoe": -0.0322, "cluster": "Cluster 2"},
      {"eos": 0.095, "eoe": -0.0317, "cluster": "Cluster 2"},
      {"eos": 0.099, "eoe": -0.0321, "cluster": "Cluster 2"},
      {"eos": 0.104, "eoe": -0.0318, "cluster": "Cluster 2"},
      {"eos": 0.109, "eoe": -0.0322, "cluster": "Cluster 2"},
      {"eos": 0.115, "eoe": -0.0319, "cluster": "Cluster 2"},
      {"eos": 0.061, "eoe": -0.0342, "cluster": "Cluster 2"},
      {"eos": 0.066, "eoe": -0.0337, "cluster": "Cluster 2"},
      {"eos": 0.070, "eoe": -0.0343, "cluster": "Cluster 2"},
      {"eos": 0.074, "eoe": -0.0338, "cluster": "Cluster 2"},
      {"eos": 0.078, "eoe": -0.0341, "cluster": "Cluster 2"},
      {"eos": 0.082, "eoe": -0.0344, "cluster": "Cluster 2"},
      {"eos": 0.086, "eoe": -0.0338, "cluster": "Cluster 2"},
      {"eos": 0.090, "eoe": -0.0342, "cluster": "Cluster 2"},
      {"eos": 0.094, "eoe": -0.0337, "cluster": "Cluster 2"},
      {"eos": 0.098, "eoe": -0.0343, "cluster": "Cluster 2"},
      {"eos": 0.103, "eoe": -0.0339, "cluster": "Cluster 2"},
      {"eos": 0.108, "eoe": -0.0342, "cluster": "Cluster 2"},
      {"eos": 0.113, "eoe": -0.0338, "cluster": "Cluster 2"},
      {"eos": 0.118, "eoe": -0.0341, "cluster": "Cluster 2"},
      {"eos": 0.064, "eoe": -0.0361, "cluster": "Cluster 2"},
      {"eos": 0.069, "eoe": -0.0357, "cluster": "Cluster 2"},
      {"eos": 0.074, "eoe": -0.0362, "cluster": "Cluster 2"},
      {"eos": 0.079, "eoe": -0.0358, "cluster": "Cluster 2"},
      {"eos": 0.084, "eoe": -0.0363, "cluster": "Cluster 2"},
      {"eos": 0.089, "eoe": -0.0359, "cluster": "Cluster 2"},
      {"eos": 0.093, "eoe": -0.0361, "cluster": "Cluster 2"},
      {"eos": 0.097, "eoe": -0.0357, "cluster": "Cluster 2"},
      {"eos": 0.102, "eoe": -0.0362, "cluster": "Cluster 2"},
      {"eos": 0.107, "eoe": -0.0358, "cluster": "Cluster 2"},
      {"eos": 0.112, "eoe": -0.0361, "cluster": "Cluster 2"},
      {"eos": 0.067, "eoe": -0.0382, "cluster": "Cluster 2"},
      {"eos": 0.073, "eoe": -0.0377, "cluster": "Cluster 2"},
      {"eos": 0.079, "eoe": -0.0383, "cluster": "Cluster 2"},
      {"eos": 0.085, "eoe": -0.0378, "cluster": "Cluster 2"},
      {"eos": 0.091, "eoe": -0.0381, "cluster": "Cluster 2"},
      {"eos": 0.096, "eoe": -0.0384, "cluster": "Cluster 2"},
      {"eos": 0.101, "eoe": -0.0379, "cluster": "Cluster 2"},
      {"eos": 0.106, "eoe": -0.0382, "cluster": "Cluster 2"},
      {"eos": 0.111, "eoe": -0.0378, "cluster": "Cluster 2"},
      {"eos": 0.070, "eoe": -0.0401, "cluster": "Cluster 2"},
      {"eos": 0.078, "eoe": -0.0397, "cluster": "Cluster 2"},
      {"eos": 0.086, "eoe": -0.0403, "cluster": "Cluster 2"},
      {"eos": 0.093, "eoe": -0.0398, "cluster": "Cluster 2"},
      {"eos": 0.099, "eoe": -0.0402, "cluster": "Cluster 2"},
      {"eos": 0.105, "eoe": -0.0399, "cluster": "Cluster 2"},
      {"eos": 0.075, "eoe": -0.0422, "cluster": "Cluster 2"},
      {"eos": 0.084, "eoe": -0.0418, "cluster": "Cluster 2"},
      {"eos": 0.092, "eoe": -0.0423, "cluster": "Cluster 2"},
      {"eos": 0.101, "eoe": -0.0419, "cluster": "Cluster 2"},
      {"eos": 0.063, "eoe": -0.0191, "cluster": "Cluster 2"},
      {"eos": 0.069, "eoe": -0.0188, "cluster": "Cluster 2"},
      {"eos": 0.077, "eoe": -0.0192, "cluster": "Cluster 2"},
      {"eos": 0.083, "eoe": -0.0189, "cluster": "Cluster 2"},
      {"eos": 0.088, "eoe": -0.0193, "cluster": "Cluster 2"},
      {"eos": 0.093, "eoe": -0.0188, "cluster": "Cluster 2"},
      {"eos": 0.099, "eoe": -0.0191, "cluster": "Cluster 2"},
      {"eos": 0.106, "eoe": -0.0189, "cluster": "Cluster 2"},
      {"eos": 0.059, "eoe": -0.0211, "cluster": "Cluster 2"},
      {"eos": 0.064, "eoe": -0.0208, "cluster": "Cluster 2"},
      {"eos": 0.068, "eoe": -0.0212, "cluster": "Cluster 2"},
      {"eos": 0.072, "eoe": -0.0209, "cluster": "Cluster 2"},
      {"eos": 0.076, "eoe": -0.0213, "cluster": "Cluster 2"},
      {"eos": 0.080, "eoe": -0.0208, "cluster": "Cluster 2"},
      {"eos": 0.084, "eoe": -0.0211, "cluster": "Cluster 2"},
      {"eos": 0.088, "eoe": -0.0214, "cluster": "Cluster 2"},
      {"eos": 0.092, "eoe": -0.0209, "cluster": "Cluster 2"},
      {"eos": 0.097, "eoe": -0.0212, "cluster": "Cluster 2"},
      {"eos": 0.101, "eoe": -0.0208, "cluster": "Cluster 2"},
      {"eos": 0.107, "eoe": -0.0211, "cluster": "Cluster 2"},
      {"eos": 0.113, "eoe": -0.0209, "cluster": "Cluster 2"},
      {"eos": 0.056, "eoe": -0.0231, "cluster": "Cluster 2"},
      {"eos": 0.061, "eoe": -0.0228, "cluster": "Cluster 2"},
      {"eos": 0.065, "eoe": -0.0232, "cluster": "Cluster 2"},
      {"eos": 0.069, "eoe": -0.0229, "cluster": "Cluster 2"},
      {"eos": 0.073, "eoe": -0.0233, "cluster": "Cluster 2"},
      {"eos": 0.077, "eoe": -0.0228, "cluster": "Cluster 2"},
      {"eos": 0.081, "eoe": -0.0231, "cluster": "Cluster 2"},
      {"eos": 0.085, "eoe": -0.0234, "cluster": "Cluster 2"},
      {"eos": 0.089, "eoe": -0.0229, "cluster": "Cluster 2"},
      {"eos": 0.093, "eoe": -0.0232, "cluster": "Cluster 2"},
      {"eos": 0.097, "eoe": -0.0228, "cluster": "Cluster 2"},
      {"eos": 0.102, "eoe": -0.0231, "cluster": "Cluster 2"},
      {"eos": 0.108, "eoe": -0.0229, "cluster": "Cluster 2"},
      {"eos": 0.114, "eoe": -0.0232, "cluster": "Cluster 2"},
      {"eos": 0.058, "eoe": -0.0251, "cluster": "Cluster 2"},
      {"eos": 0.062, "eoe": -0.0248, "cluster": "Cluster 2"},
      {"eos": 0.066, "eoe": -0.0252, "cluster": "Cluster 2"},
      {"eos": 0.070, "eoe": -0.0249, "cluster": "Cluster 2"},
      {"eos": 0.074, "eoe": -0.0253, "cluster": "Cluster 2"},
      {"eos": 0.078, "eoe": -0.0248, "cluster": "Cluster 2"},
      {"eos": 0.082, "eoe": -0.0251, "cluster": "Cluster 2"},
      {"eos": 0.086, "eoe": -0.0254, "cluster": "Cluster 2"},
      {"eos": 0.090, "eoe": -0.0249, "cluster": "Cluster 2"},
      {"eos": 0.094, "eoe": -0.0252, "cluster": "Cluster 2"},
      {"eos": 0.098, "eoe": -0.0248, "cluster": "Cluster 2"},
      {"eos": 0.103, "eoe": -0.0251, "cluster": "Cluster 2"},
      {"eos": 0.109, "eoe": -0.0249, "cluster": "Cluster 2"},
      {"eos": 0.115, "eoe": -0.0252, "cluster": "Cluster 2"},
      {"eos": 0.056, "eoe": -0.0271, "cluster": "Cluster 2"},
      {"eos": 0.060, "eoe": -0.0268, "cluster": "Cluster 2"},
      {"eos": 0.064, "eoe": -0.0272, "cluster": "Cluster 2"},
      {"eos": 0.068, "eoe": -0.0269, "cluster": "Cluster 2"},
      {"eos": 0.072, "eoe": -0.0273, "cluster": "Cluster 2"},
      {"eos": 0.076, "eoe": -0.0268, "cluster": "Cluster 2"},
      {"eos": 0.080, "eoe": -0.0271, "cluster": "Cluster 2"},
      {"eos": 0.084, "eoe": -0.0274, "cluster": "Cluster 2"},
      {"eos": 0.088, "eoe": -0.0269, "cluster": "Cluster 2"},
      {"eos": 0.092, "eoe": -0.0272, "cluster": "Cluster 2"},
      {"eos": 0.096, "eoe": -0.0268, "cluster": "Cluster 2"},
      {"eos": 0.100, "eoe": -0.0271, "cluster": "Cluster 2"},
      {"eos": 0.106, "eoe": -0.0269, "cluster": "Cluster 2"},
      {"eos": 0.111, "eoe": -0.0272, "cluster": "Cluster 2"},
      {"eos": 0.117, "eoe": -0.0268, "cluster": "Cluster 2"},
      {"eos": 0.058, "eoe": -0.0291, "cluster": "Cluster 2"},
      {"eos": 0.062, "eoe": -0.0288, "cluster": "Cluster 2"},
      {"eos": 0.066, "eoe": -0.0292, "cluster": "Cluster 2"},
      {"eos": 0.070, "eoe": -0.0289, "cluster": "Cluster 2"},
      {"eos": 0.074, "eoe": -0.0293, "cluster": "Cluster 2"},
      {"eos": 0.078, "eoe": -0.0288, "cluster": "Cluster 2"},
      {"eos": 0.082, "eoe": -0.0291, "cluster": "Cluster 2"},
      {"eos": 0.086, "eoe": -0.0294, "cluster": "Cluster 2"},
      {"eos": 0.090, "eoe": -0.0289, "cluster": "Cluster 2"},
      {"eos": 0.094, "eoe": -0.0292, "cluster": "Cluster 2"},
      {"eos": 0.098, "eoe": -0.0288, "cluster": "Cluster 2"},
      {"eos": 0.102, "eoe": -0.0291, "cluster": "Cluster 2"},
      {"eos": 0.107, "eoe": -0.0289, "cluster": "Cluster 2"},
      {"eos": 0.113, "eoe": -0.0292, "cluster": "Cluster 2"},
      {"eos": 0.119, "eoe": -0.0288, "cluster": "Cluster 2"},
      {"eos": 0.061, "eoe": -0.0311, "cluster": "Cluster 2"},
      {"eos": 0.065, "eoe": -0.0308, "cluster": "Cluster 2"},
      {"eos": 0.069, "eoe": -0.0312, "cluster": "Cluster 2"},
      {"eos": 0.073, "eoe": -0.0309, "cluster": "Cluster 2"},
      {"eos": 0.077, "eoe": -0.0313, "cluster": "Cluster 2"},
      {"eos": 0.081, "eoe": -0.0308, "cluster": "Cluster 2"},
      {"eos": 0.085, "eoe": -0.0311, "cluster": "Cluster 2"},
      {"eos": 0.089, "eoe": -0.0314, "cluster": "Cluster 2"},
      {"eos": 0.093, "eoe": -0.0309, "cluster": "Cluster 2"},
      {"eos": 0.097, "eoe": -0.0312, "cluster": "Cluster 2"},
      {"eos": 0.102, "eoe": -0.0308, "cluster": "Cluster 2"},
      {"eos": 0.107, "eoe": -0.0311, "cluster": "Cluster 2"},
      {"eos": 0.112, "eoe": -0.0309, "cluster": "Cluster 2"},
      {"eos": 0.064, "eoe": -0.0331, "cluster": "Cluster 2"},
      {"eos": 0.068, "eoe": -0.0328, "cluster": "Cluster 2"},
      {"eos": 0.072, "eoe": -0.0332, "cluster": "Cluster 2"},
      {"eos": 0.076, "eoe": -0.0329, "cluster": "Cluster 2"},
      {"eos": 0.080, "eoe": -0.0333, "cluster": "Cluster 2"},
      {"eos": 0.084, "eoe": -0.0328, "cluster": "Cluster 2"},
      {"eos": 0.088, "eoe": -0.0331, "cluster": "Cluster 2"},
      {"eos": 0.092, "eoe": -0.0334, "cluster": "Cluster 2"},
      {"eos": 0.096, "eoe": -0.0329, "cluster": "Cluster 2"},
      {"eos": 0.101, "eoe": -0.0332, "cluster": "Cluster 2"},
      {"eos": 0.106, "eoe": -0.0328, "cluster": "Cluster 2"},
      {"eos": 0.111, "eoe": -0.0331, "cluster": "Cluster 2"},
      {"eos": 0.067, "eoe": -0.0351, "cluster": "Cluster 2"},
      {"eos": 0.072, "eoe": -0.0348, "cluster": "Cluster 2"},
      {"eos": 0.076, "eoe": -0.0352, "cluster": "Cluster 2"},
      {"eos": 0.081, "eoe": -0.0349, "cluster": "Cluster 2"},
      {"eos": 0.086, "eoe": -0.0353, "cluster": "Cluster 2"},
      {"eos": 0.091, "eoe": -0.0348, "cluster": "Cluster 2"},
      {"eos": 0.095, "eoe": -0.0351, "cluster": "Cluster 2"},
      {"eos": 0.100, "eoe": -0.0354, "cluster": "Cluster 2"},
      {"eos": 0.105, "eoe": -0.0349, "cluster": "Cluster 2"},
      {"eos": 0.110, "eoe": -0.0352, "cluster": "Cluster 2"},
      {"eos": 0.071, "eoe": -0.0371, "cluster": "Cluster 2"},
      {"eos": 0.076, "eoe": -0.0368, "cluster": "Cluster 2"},
      {"eos": 0.082, "eoe": -0.0372, "cluster": "Cluster 2"},
      {"eos": 0.088, "eoe": -0.0369, "cluster": "Cluster 2"},
      {"eos": 0.094, "eoe": -0.0373, "cluster": "Cluster 2"},
      {"eos": 0.099, "eoe": -0.0368, "cluster": "Cluster 2"},
      {"eos": 0.104, "eoe": -0.0371, "cluster": "Cluster 2"},
      {"eos": 0.075, "eoe": -0.0391, "cluster": "Cluster 2"},
      {"eos": 0.082, "eoe": -0.0388, "cluster": "Cluster 2"},
      {"eos": 0.089, "eoe": -0.0392, "cluster": "Cluster 2"},
      {"eos": 0.096, "eoe": -0.0389, "cluster": "Cluster 2"},
      {"eos": 0.103, "eoe": -0.0391, "cluster": "Cluster 2"}
    ],
    "boxB": [
      {"cluster": "Cluster 1", "k": 1, "lo": -0.0194, "q1": -0.0091, "med": -0.0052, "q3": -0.0021, "hi": 0.0100},
      {"cluster": "Cluster 2", "k": 2, "lo": -0.0518, "q1": -0.0363, "med": -0.0303, "q3": -0.0259, "hi": -0.0078}
    ],
    "outB": [
      {"cluster": "Cluster 1", "k": 1, "value": 0.0588},
      {"cluster": "Cluster 1", "k": 1, "value": 0.0389},
      {"cluster": "Cluster 1", "k": 1, "value": 0.0355},
      {"cluster": "Cluster 1", "k": 1, "value": 0.0342},
      {"cluster": "Cluster 1", "k": 1, "value": 0.0329},
      {"cluster": "Cluster 1", "k": 1, "value": 0.0311},
      {"cluster": "Cluster 1", "k": 1, "value": 0.0298},
      {"cluster": "Cluster 1", "k": 1, "value": 0.0272},
      {"cluster": "Cluster 1", "k": 1, "value": 0.0254},
      {"cluster": "Cluster 1", "k": 1, "value": 0.0238},
      {"cluster": "Cluster 1", "k": 1, "value": 0.0220},
      {"cluster": "Cluster 1", "k": 1, "value": 0.0202},
      {"cluster": "Cluster 1", "k": 1, "value": 0.0186},
      {"cluster": "Cluster 1", "k": 1, "value": 0.0168},
      {"cluster": "Cluster 1", "k": 1, "value": 0.0155},
      {"cluster": "Cluster 1", "k": 1, "value": 0.0135},
      {"cluster": "Cluster 1", "k": 1, "value": 0.0117},
      {"cluster": "Cluster 1", "k": 1, "value": 0.0104},
      {"cluster": "Cluster 1", "k": 1, "value": -0.0196},
      {"cluster": "Cluster 1", "k": 1, "value": -0.0212},
      {"cluster": "Cluster 1", "k": 1, "value": -0.0233},
      {"cluster": "Cluster 1", "k": 1, "value": -0.0254},
      {"cluster": "Cluster 1", "k": 1, "value": -0.0272},
      {"cluster": "Cluster 1", "k": 1, "value": -0.0290},
      {"cluster": "Cluster 1", "k": 1, "value": -0.0311},
      {"cluster": "Cluster 1", "k": 1, "value": -0.0324},
      {"cluster": "Cluster 2", "k": 2, "value": 0.0039},
      {"cluster": "Cluster 2", "k": 2, "value": 0.0021},
      {"cluster": "Cluster 2", "k": 2, "value": 0.0005},
      {"cluster": "Cluster 2", "k": 2, "value": -0.0065},
      {"cluster": "Cluster 2", "k": 2, "value": -0.0072},
      {"cluster": "Cluster 2", "k": 2, "value": -0.0531},
      {"cluster": "Cluster 2", "k": 2, "value": -0.0549},
      {"cluster": "Cluster 2", "k": 2, "value": -0.0570},
      {"cluster": "Cluster 2", "k": 2, "value": -0.0588},
      {"cluster": "Cluster 2", "k": 2, "value": -0.0609},
      {"cluster": "Cluster 2", "k": 2, "value": -0.0635},
      {"cluster": "Cluster 2", "k": 2, "value": -0.0660},
      {"cluster": "Cluster 2", "k": 2, "value": -0.0679},
      {"cluster": "Cluster 2", "k": 2, "value": -0.0751},
      {"cluster": "Cluster 2", "k": 2, "value": -0.0850},
      {"cluster": "Cluster 2", "k": 2, "value": -0.0958},
      {"cluster": "Cluster 2", "k": 2, "value": -0.1010},
      {"cluster": "Cluster 2", "k": 2, "value": -0.1067},
      {"cluster": "Cluster 2", "k": 2, "value": -0.1160},
      {"cluster": "Cluster 2", "k": 2, "value": -0.1502},
      {"cluster": "Cluster 2", "k": 2, "value": -0.1808},
      {"cluster": "Cluster 2", "k": 2, "value": -0.3038}
    ],
    "boxC": [
      {"cluster": "Cluster 1", "k": 1, "lo": 0.0005, "q1": 0.0278, "med": 0.0375, "q3": 0.0475, "hi": 0.0781},
      {"cluster": "Cluster 2", "k": 2, "lo": 0.0341, "q1": 0.0763, "med": 0.0907, "q3": 0.1075, "hi": 0.1555}
    ],
    "outC": [
      {"cluster": "Cluster 1", "k": 1, "value": 0.0978},
      {"cluster": "Cluster 1", "k": 1, "value": 0.0952},
      {"cluster": "Cluster 1", "k": 1, "value": 0.0925},
      {"cluster": "Cluster 1", "k": 1, "value": 0.0900},
      {"cluster": "Cluster 1", "k": 1, "value": 0.0874},
      {"cluster": "Cluster 1", "k": 1, "value": 0.0847},
      {"cluster": "Cluster 1", "k": 1, "value": 0.0829},
      {"cluster": "Cluster 1", "k": 1, "value": 0.0807},
      {"cluster": "Cluster 1", "k": 1, "value": 0.0787},
      {"cluster": "Cluster 1", "k": 1, "value": -0.0006},
      {"cluster": "Cluster 1", "k": 1, "value": -0.0019},
      {"cluster": "Cluster 1", "k": 1, "value": -0.0031},
      {"cluster": "Cluster 1", "k": 1, "value": -0.0045},
      {"cluster": "Cluster 1", "k": 1, "value": -0.0084},
      {"cluster": "Cluster 1", "k": 1, "value": -0.0137},
      {"cluster": "Cluster 1", "k": 1, "value": -0.0247},
      {"cluster": "Cluster 1", "k": 1, "value": -0.0438},
      {"cluster": "Cluster 1", "k": 1, "value": -0.0669},
      {"cluster": "Cluster 2", "k": 2, "value": 0.2322},
      {"cluster": "Cluster 2", "k": 2, "value": 0.1968},
      {"cluster": "Cluster 2", "k": 2, "value": 0.1954},
      {"cluster": "Cluster 2", "k": 2, "value": 0.1909},
      {"cluster": "Cluster 2", "k": 2, "value": 0.1805},
      {"cluster": "Cluster 2", "k": 2, "value": 0.1783},
      {"cluster": "Cluster 2", "k": 2, "value": 0.1765},
      {"cluster": "Cluster 2", "k": 2, "value": 0.1747},
      {"cluster": "Cluster 2", "k": 2, "value": 0.1726},
      {"cluster": "Cluster 2", "k": 2, "value": 0.1700},
      {"cluster": "Cluster 2", "k": 2, "value": 0.1679},
      {"cluster": "Cluster 2", "k": 2, "value": 0.1653},
      {"cluster": "Cluster 2", "k": 2, "value": 0.1626},
      {"cluster": "Cluster 2", "k": 2, "value": 0.1600},
      {"cluster": "Cluster 2", "k": 2, "value": 0.1582},
      {"cluster": "Cluster 2", "k": 2, "value": 0.1568},
      {"cluster": "Cluster 2", "k": 2, "value": -0.0039},
      {"cluster": "Cluster 2", "k": 2, "value": -0.0682},
      {"cluster": "Cluster 2", "k": 2, "value": -0.1351}
    ]
  },
  "hconcat": [
    {
      "width": 642,
      "height": 452,
      "title": {"text": "a)", "dy": 29},
      "data": {"name": "scatter"},
      "mark": {"type": "circle", "size": 46, "opacity": 0.6},
      "encoding": {
        "x": {"field": "eos", "type": "quantitative", "scale": {"domain": [-0.0603, 0.1603], "nice": false, "zero": false},
          "axis": {"values": [-0.05, 0, 0.05, 0.1, 0.15], "labelExpr": "replace(format(datum.value, '.2f'), '\u2212', '-')", "labelFontSize": 20, "title": "Deformation EOS", "titleFontSize": 25, "titlePadding": 2, "labelPadding": 2}},
        "y": {"field": "eoe", "type": "quantitative", "scale": {"domain": [-0.107, 0.058], "nice": false, "zero": false},
          "axis": {"values": [-0.1, -0.05, 0, 0.05], "labelExpr": "replace(format(datum.value, '.2f'), '\u2212', '-')", "labelFontSize": 20, "title": "Relaxation EOE", "titleFontSize": 25, "titlePadding": 2}},
        "color": {"field": "cluster", "type": "nominal", "scale": {"domain": ["Cluster 1", "Cluster 2"], "range": ["#F8766D", "#00BFC4"]},
          "legend": {"orient": "none", "legendX": 209, "legendY": 513, "title": null, "direction": "horizontal", "labelFontSize": 21, "labelColor": "#1a1a1a", "symbolType": "circle", "symbolSize": 40, "labelOffset": 0, "columnPadding": 0}}
      }
    },
    {
      "width": 297,
      "height": 514,
      "title": {"text": "b)", "dy": 29},
      "layer": [
        {
          "data": {"name": "boxB"},
          "mark": {"type": "rule", "strokeWidth": 1.5},
          "encoding": {
            "x": {"field": "k", "type": "quantitative", "scale": {"domain": [0.4, 2.6], "nice": false, "zero": false, "padding": 0}, "axis": {"values": [1, 2], "labelExpr": "datum.value == 1 ? 'Cluster 1' : 'Cluster 2'", "labelFontSize": 21, "title": null, "labelPadding": 0, "tickSize": 4}},
            "y": {"field": "lo", "type": "quantitative", "scale": {"domain": [-0.3225, 0.077], "nice": false, "zero": false}, "axis": {"values": [-0.3, -0.2, -0.1, 0], "labelExpr": "replace(format(datum.value, '.1f'), '\u2212', '-')", "labelFontSize": 16.5, "title": "EOE", "titleFontSize": 20, "titlePadding": 2}},
            "y2": {"field": "hi"},
            "color": {"field": "cluster", "type": "nominal", "scale": {"domain": ["Cluster 1", "Cluster 2"], "range": ["#F8766D", "#00BFC4"]}, "legend": null}
          }
        },
        {
          "data": {"name": "boxB"},
          "mark": {"type": "bar", "orient": "vertical", "width": 102, "fill": "white", "strokeWidth": 1.5},
          "encoding": {
            "x": {"field": "k", "type": "quantitative", "scale": {"domain": [0.4, 2.6], "nice": false, "zero": false, "padding": 0}, "axis": {"values": [1, 2], "labelExpr": "datum.value == 1 ? 'Cluster 1' : 'Cluster 2'", "labelFontSize": 21, "title": null, "labelPadding": 0, "tickSize": 4}},
            "y": {"field": "q1", "type": "quantitative", "scale": {"domain": [-0.3225, 0.077], "nice": false, "zero": false}, "axis": {"values": [-0.3, -0.2, -0.1, 0], "labelExpr": "replace(format(datum.value, '.1f'), '\u2212', '-')", "labelFontSize": 16.5, "title": "EOE", "titleFontSize": 20, "titlePadding": 2}},
            "y2": {"field": "q3"},
            "stroke": {"field": "cluster", "type": "nominal", "scale": {"domain": ["Cluster 1", "Cluster 2"], "range": ["#F8766D", "#00BFC4"]}, "legend": null}
          }
        },
        {
          "data": {"name": "boxB"},
          "mark": {"type": "tick", "orient": "horizontal", "size": 102, "thickness": 2},
          "encoding": {
            "x": {"field": "k", "type": "quantitative", "scale": {"domain": [0.4, 2.6], "nice": false, "zero": false, "padding": 0}, "axis": {"values": [1, 2], "labelExpr": "datum.value == 1 ? 'Cluster 1' : 'Cluster 2'", "labelFontSize": 21, "title": null, "labelPadding": 0, "tickSize": 4}},
            "y": {"field": "med", "type": "quantitative", "scale": {"domain": [-0.3225, 0.077], "nice": false, "zero": false}, "axis": {"values": [-0.3, -0.2, -0.1, 0], "labelExpr": "replace(format(datum.value, '.1f'), '\u2212', '-')", "labelFontSize": 16.5, "title": "EOE", "titleFontSize": 20, "titlePadding": 2}},
            "color": {"field": "cluster", "type": "nominal", "scale": {"domain": ["Cluster 1", "Cluster 2"], "range": ["#F8766D", "#00BFC4"]}, "legend": null}
          }
        },
        {
          "data": {"name": "outB"},
          "mark": {"type": "circle", "size": 14, "opacity": 1},
          "encoding": {
            "x": {"field": "k", "type": "quantitative", "scale": {"domain": [0.4, 2.6], "nice": false, "zero": false, "padding": 0}, "axis": {"values": [1, 2], "labelExpr": "datum.value == 1 ? 'Cluster 1' : 'Cluster 2'", "labelFontSize": 21, "title": null, "labelPadding": 0, "tickSize": 4}},
            "y": {"field": "value", "type": "quantitative", "scale": {"domain": [-0.3225, 0.077], "nice": false, "zero": false}, "axis": {"values": [-0.3, -0.2, -0.1, 0], "labelExpr": "replace(format(datum.value, '.1f'), '\u2212', '-')", "labelFontSize": 16.5, "title": "EOE", "titleFontSize": 20, "titlePadding": 2}},
            "color": {"field": "cluster", "type": "nominal", "scale": {"domain": ["Cluster 1", "Cluster 2"], "range": ["#F8766D", "#00BFC4"]}, "legend": null}
          }
        },
        {
          "data": {"values": [{}]},
          "mark": {"type": "rule", "color": "#000000", "strokeWidth": 2},
          "encoding": {
            "x": {"datum": 1.143, "type": "quantitative"},
            "x2": {"datum": 1.798},
            "y": {"datum": 0.0458, "type": "quantitative"}
          }
        },
        {
          "data": {"values": [{}]},
          "mark": {"type": "text", "text": "***", "fontSize": 24, "color": "#333333", "align": "center", "baseline": "alphabetic", "font": "Liberation Sans"},
          "encoding": {
            "x": {"datum": 1.464, "type": "quantitative"},
            "y": {"datum": 0.042, "type": "quantitative"}
          }
        }
      ]
    },
    {
      "width": 298,
      "height": 513,
      "title": {"text": "c)", "dy": 29},
      "layer": [
        {
          "data": {"name": "boxC"},
          "mark": {"type": "rule", "strokeWidth": 1.5},
          "encoding": {
            "x": {"field": "k", "type": "quantitative", "scale": {"domain": [0.4, 2.6], "nice": false, "zero": false, "padding": 0}, "axis": {"values": [1, 2], "labelExpr": "datum.value == 1 ? 'Cluster 1' : 'Cluster 2'", "labelFontSize": 21, "title": null, "labelPadding": 0, "tickSize": 4}},
            "y": {"field": "lo", "type": "quantitative", "scale": {"domain": [-0.1545, 0.249], "nice": false, "zero": false}, "axis": {"values": [-0.1, 0, 0.1, 0.2], "labelExpr": "replace(format(datum.value, '.1f'), '\u2212', '-')", "labelFontSize": 16.5, "title": "EOS", "titleFontSize": 20, "titlePadding": 1}},
            "y2": {"field": "hi"},
            "color": {"field": "cluster", "type": "nominal", "scale": {"domain": ["Cluster 1", "Cluster 2"], "range": ["#F8766D", "#00BFC4"]}, "legend": null}
          }
        },
        {
          "data": {"name": "boxC"},
          "mark": {"type": "bar", "orient": "vertical", "width": 102, "fill": "white", "strokeWidth": 1.5},
          "encoding": {
            "x": {"field": "k", "type": "quantitative", "scale": {"domain": [0.4, 2.6], "nice": false, "zero": false, "padding": 0}, "axis": {"values": [1, 2], "labelExpr": "datum.value == 1 ? 'Cluster 1' : 'Cluster 2'", "labelFontSize": 21, "title": null, "labelPadding": 0, "tickSize": 4}},
            "y": {"field": "q1", "type": "quantitative", "scale": {"domain": [-0.1545, 0.249], "nice": false, "zero": false}, "axis": {"values": [-0.1, 0, 0.1, 0.2], "labelExpr": "replace(format(datum.value, '.1f'), '\u2212', '-')", "labelFontSize": 16.5, "title": "EOS", "titleFontSize": 20, "titlePadding": 1}},
            "y2": {"field": "q3"},
            "stroke": {"field": "cluster", "type": "nominal", "scale": {"domain": ["Cluster 1", "Cluster 2"], "range": ["#F8766D", "#00BFC4"]}, "legend": null}
          }
        },
        {
          "data": {"name": "boxC"},
          "mark": {"type": "tick", "orient": "horizontal", "size": 102, "thickness": 2},
          "encoding": {
            "x": {"field": "k", "type": "quantitative", "scale": {"domain": [0.4, 2.6], "nice": false, "zero": false, "padding": 0}, "axis": {"values": [1, 2], "labelExpr": "datum.value == 1 ? 'Cluster 1' : 'Cluster 2'", "labelFontSize": 21, "title": null, "labelPadding": 0, "tickSize": 4}},
            "y": {"field": "med", "type": "quantitative", "scale": {"domain": [-0.1545, 0.249], "nice": false, "zero": false}, "axis": {"values": [-0.1, 0, 0.1, 0.2], "labelExpr": "replace(format(datum.value, '.1f'), '\u2212', '-')", "labelFontSize": 16.5, "title": "EOS", "titleFontSize": 20, "titlePadding": 1}},
            "color": {"field": "cluster", "type": "nominal", "scale": {"domain": ["Cluster 1", "Cluster 2"], "range": ["#F8766D", "#00BFC4"]}, "legend": null}
          }
        },
        {
          "data": {"name": "outC"},
          "mark": {"type": "circle", "size": 14, "opacity": 1},
          "encoding": {
            "x": {"field": "k", "type": "quantitative", "scale": {"domain": [0.4, 2.6], "nice": false, "zero": false, "padding": 0}, "axis": {"values": [1, 2], "labelExpr": "datum.value == 1 ? 'Cluster 1' : 'Cluster 2'", "labelFontSize": 21, "title": null, "labelPadding": 0, "tickSize": 4}},
            "y": {"field": "value", "type": "quantitative", "scale": {"domain": [-0.1545, 0.249], "nice": false, "zero": false}, "axis": {"values": [-0.1, 0, 0.1, 0.2], "labelExpr": "replace(format(datum.value, '.1f'), '\u2212', '-')", "labelFontSize": 16.5, "title": "EOS", "titleFontSize": 20, "titlePadding": 1}},
            "color": {"field": "cluster", "type": "nominal", "scale": {"domain": ["Cluster 1", "Cluster 2"], "range": ["#F8766D", "#00BFC4"]}, "legend": null}
          }
        },
        {
          "data": {"values": [{}]},
          "mark": {"type": "rule", "color": "#000000", "strokeWidth": 2},
          "encoding": {
            "x": {"datum": 1.108, "type": "quantitative"},
            "x2": {"datum": 1.759},
            "y": {"datum": 0.175, "type": "quantitative"}
          }
        },
        {
          "data": {"values": [{}]},
          "mark": {"type": "text", "text": "***", "fontSize": 24, "color": "#333333", "align": "center", "baseline": "alphabetic", "font": "Liberation Sans"},
          "encoding": {
            "x": {"datum": 1.435, "type": "quantitative"},
            "y": {"datum": 0.1714, "type": "quantitative"}
          }
        }
      ]
    }
  ]
}
